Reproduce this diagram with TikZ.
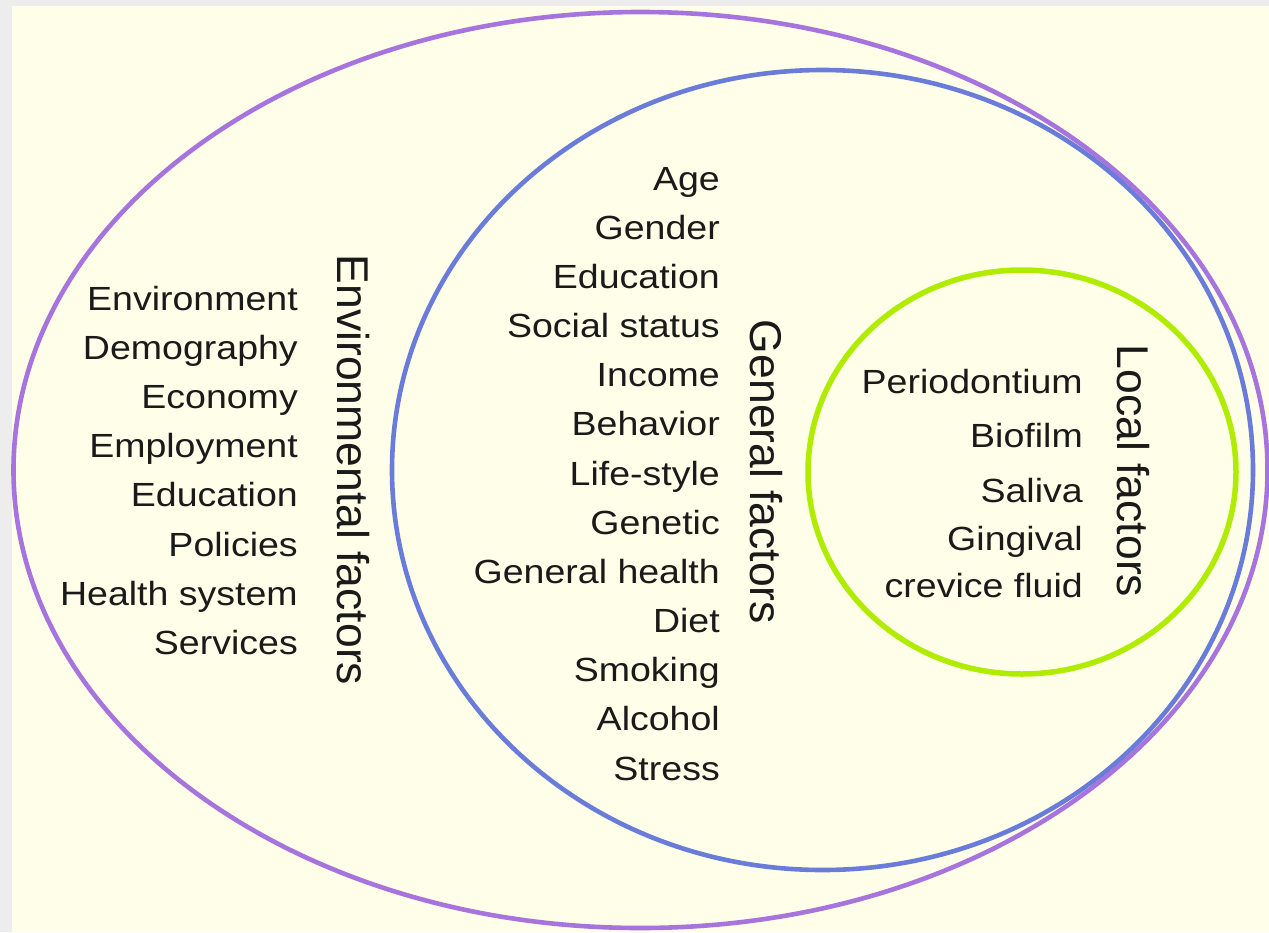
\documentclass[tikz,border=0pt]{standalone}
\usepackage{fontspec}
\setmainfont{Liberation Sans}
\definecolor{bgcream}{HTML}{FFFEE8}
\definecolor{framegrey}{HTML}{EDEDED}
\definecolor{envpurple}{HTML}{A674DC}
\definecolor{genblue}{HTML}{6A7CDA}
\definecolor{locgreen}{HTML}{B0EC00}
\definecolor{txt}{HTML}{1A1A1A}
\begin{document}
\begin{tikzpicture}[x=1pt,y=-1pt,
  item/.style={anchor=base east, inner sep=0pt, xscale=1.12, text=txt,
               font=\fontsize{33.5}{40}\selectfont},
  factorlabel/.style={anchor=base, inner sep=0pt, rotate=-90, text=txt,
               font=\fontsize{44.5}{50}\selectfont},
  ring/.style={line width=4.6pt}]

\useasboundingbox (0,0) rectangle (1269,932);
\fill[framegrey] (0,0) rectangle (1269,932);
\fill[bgcream] (12,6) rectangle (1269,932);

% rings
\draw[ring, envpurple] (640.5,470) ellipse [x radius=627, y radius=458];
\draw[ring, genblue] (822.5,470) ellipse [x radius=430.5, y radius=400];
\draw[ring, locgreen, line width=5.5pt] (1022,472) ellipse [x radius=214, y radius=202];

% environmental factors
\foreach \t [count=\i from 0] in {Environment,Demography,Economy,Employment,Education,Policies,Health system,Services}
  \node[item] (env\i) at (298,{310+49.2*\i}) {\t};
\node[factorlabel] (envlabel) at (337,470) {Environmental factors};

% general factors
\foreach \t [count=\i from 0] in {Age,Gender,Education,Social status,Income,Behavior,Life-style,Genetic,General health,Diet,Smoking,Alcohol,Stress}
  \node[item] (gen\i) at (720,{190+49.17*\i}) {\t};
\node[factorlabel] (genlabel) at (750,472) {General factors};

% local factors
\node[item] (loc0) at (1083,393) {Periodontium};
\node[item] (loc1) at (1083,447) {Biofilm};
\node[item] (loc2) at (1083,502) {Saliva};
\node[item] (loc3) at (1083,550) {Gingival};
\node[item] (loc4) at (1083,597) {crevice fluid};
\node[factorlabel] (loclabel) at (1117,471) {Local factors};
\end{tikzpicture}
\end{document}
